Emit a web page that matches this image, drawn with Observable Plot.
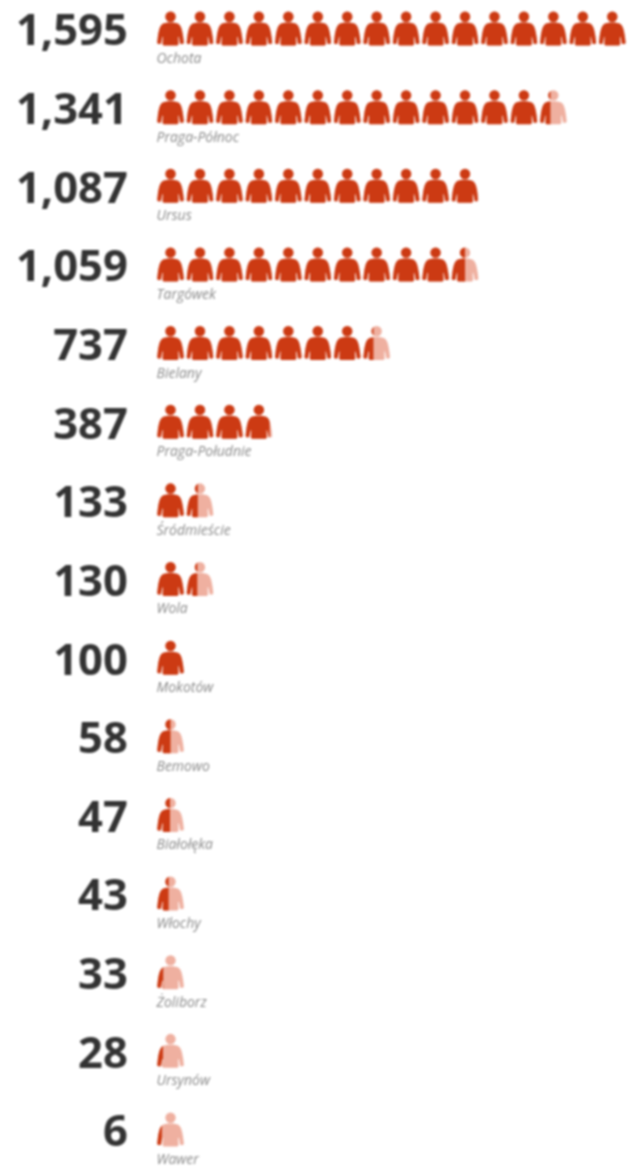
<!DOCTYPE html>
<html>
<head>
<meta charset="utf-8">
<script src="https://cdn.jsdelivr.net/npm/d3@7"></script>
<script src="https://cdn.jsdelivr.net/npm/@observablehq/plot@0.6"></script>
<style>
html,body{margin:0;padding:0;background:#fff}
svg{display:block;filter:blur(0.9px)}
</style>
</head>
<body>
<div id="chart"></div>
<script>
const districts = ["Ochota","Praga-Północ","Ursus","Targówek","Bielany","Praga-Południe","Śródmieście","Wola","Mokotów","Bemowo","Białołęka","Włochy","Żoliborz","Ursynów","Wawer"];
const counts = [1595,1341,1087,1059,737,387,133,130,100,58,47,43,33,28,6];
// How far the colour reaches across each row's last icon.
const lastFill = [1,0.39,0.97,0.5,0.38,0.9,0.42,0.4,1,0.5,0.48,0.43,0.23,0.22,0.18];
const unit = 100;
const darkColor = "#cc3a13";
const lightColor = "#efb0a0";

const rows = districts.map((district, i) => ({district, count: counts[i], last: lastFill[i]}));

const people = rows.flatMap(({district, count, last}) => {
  const n = Math.max(1, Math.ceil(count / unit));
  return d3.range(n).map(k => ({district, slot: k + 0.5, fill: k === n - 1 ? last : 1}));
});

const personPath = "M13.5 0a5.2 5.2 0 1 1 0 10.4a5.2 5.2 0 1 1 0-10.4z" +
  "M13.5 11C10 11 6.5 11.4 4.6 13.2C2.6 15.2 1.6 20 0.8 25.5L0.2 31C0.2 32 1 32.5 2 32.5L3.8 32.5L5.2 25.5L5.9 25.5L5.5 32.5C5.5 33.4 6.4 34 7.6 34L19.4 34C20.6 34 21.5 33.4 21.5 32.5L21.1 25.5L21.8 25.5L23.2 32.5L25 32.5C26 32.5 26.8 32 26.8 31L26.2 25.5C25.4 20 24.4 15.2 22.4 13.2C20.5 11.4 17 11 13.5 11z";

function icon(f) {
  const svg = `<svg xmlns="http://www.w3.org/2000/svg" width="29" height="36" viewBox="-1 -1 29 36">` +
    `<defs><clipPath id="c"><rect x="-1" y="-1" width="${1 + 27 * f + (f === 1 ? 1 : 0)}" height="36"/></clipPath></defs>` +
    `<path d="${personPath}" fill="${lightColor}"/>` +
    `<path d="${personPath}" fill="${darkColor}" clip-path="url(#c)"/></svg>`;
  return "data:image/svg+xml;charset=utf-8," + encodeURIComponent(svg);
}

const chart = Plot.plot({
  width: 628,
  height: 1166,
  margin: 0,
  x: {domain: [0, 16], range: [155.3, 626.5], axis: null},
  y: {type: "point", domain: districts, padding: 0, round: false, range: [31, 1132], axis: null},
  marks: [
    Plot.image(people, {
      x: "slot", y: "district",
      src: d => icon(d.fill),
      width: 29, height: 36, dy: -3
    }),
    Plot.text(rows, {
      x: () => 0, y: "district",
      text: d => d3.format(",")(d.count),
      textAnchor: "end", dx: -28, dy: 0,
      fontFamily: "Open Sans", fontWeight: 700, fontSize: 43.5, fill: "#333"
    }),
    Plot.text(rows, {
      x: () => 0, y: "district",
      text: "district",
      textAnchor: "start", dx: 0.7, dy: 27,
      fontFamily: "Open Sans", fontStyle: "italic", fontSize: 14, letterSpacing: -0.75, fill: "#8a8a8a"
    })
  ]
});
document.getElementById("chart").append(chart);
</script>
</body>
</html>
